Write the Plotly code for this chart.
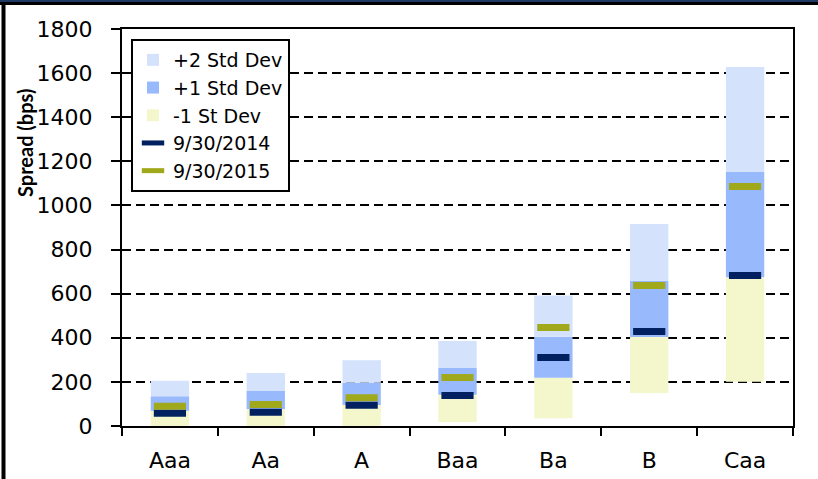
import plotly.graph_objects as go

# Ratings and spread statistics (bps)
ratings = ["Aaa", "Aa", "A", "Baa", "Ba", "B", "Caa"]
minus1_sd = [0, 0, 0, 18, 35, 150, 201]
mean_spread = [69, 77, 95, 142, 219, 403, 675]
plus1_sd = [135, 159, 196, 263, 405, 657, 1152]
plus2_sd = [205, 240, 298, 385, 592, 916, 1628]
spread_2014 = [58, 62, 94, 138, 311, 428, 682]
spread_2015 = [89, 97, 128, 220, 447, 637, 1086]
y_ticks = [0, 200, 400, 600, 800, 1000, 1200, 1400, 1600, 1800]

W, H = 818, 479
L, R, T, B = 122, 25, 29, 53
PW, PH = W - L - R, H - T - B

def px_x(x):
    return (x - L) / PW

def px_y(y):
    return (H - B - y) / PH

FONT = "DejaVu Sans"
C_P2 = "#D5E2FC"
C_P1 = "#98B9FB"
C_M1 = "#F4F7CC"
C_14 = "#002060"
C_15 = "#A0A91C"

fig = go.Figure()

fig.add_trace(go.Bar(
    x=ratings, base=minus1_sd,
    y=[m - lo for m, lo in zip(mean_spread, minus1_sd)],
    marker=dict(color=C_M1, line=dict(width=0)),
    width=0.4, name="-1 St Dev", legendrank=3,
))
fig.add_trace(go.Bar(
    x=ratings, base=mean_spread,
    y=[p - m for p, m in zip(plus1_sd, mean_spread)],
    marker=dict(color=C_P1, line=dict(width=0)),
    width=0.4, name="+1 Std Dev", legendrank=2,
))
fig.add_trace(go.Bar(
    x=ratings, base=plus1_sd,
    y=[p2 - p1 for p2, p1 in zip(plus2_sd, plus1_sd)],
    marker=dict(color=C_P2, line=dict(width=0)),
    width=0.4, name="+2 Std Dev", legendrank=1,
))
# Dash markers for the two observation dates
fig.add_trace(go.Scatter(
    x=ratings, y=spread_2014, mode="markers",
    marker=dict(symbol="line-ew", size=23, line=dict(width=7, color=C_14), color=C_14),
    name="9/30/2014", legendrank=4,
))
fig.add_trace(go.Scatter(
    x=ratings, y=spread_2015, mode="markers",
    marker=dict(symbol="line-ew", size=23, line=dict(width=7, color=C_15), color=C_15),
    name="9/30/2015", legendrank=5,
))

# Invisible trace on the overlay axis so that its inside ticks are drawn
fig.add_trace(go.Scatter(x=ratings, y=[None] * len(ratings), yaxis="y2",
                         showlegend=False, hoverinfo="skip"))

fig.update_layout(
    width=W, height=H,
    margin=dict(l=L, r=R, t=T, b=B, pad=0, autoexpand=False),
    paper_bgcolor="white", plot_bgcolor="white",
    barmode="overlay",
    font=dict(family=FONT, color="black"),
    showlegend=True,
    legend=dict(
        x=px_x(131), y=px_y(39), xanchor="left", yanchor="top",
        bgcolor="white", bordercolor="black", borderwidth=2,
        font=dict(family=FONT, size=19, color="black"),
        itemsizing="trace", traceorder="normal",
    ),
    xaxis=dict(
        type="category", tickson="boundaries", automargin=False,
        range=[-0.5, len(ratings) - 0.5],
        showline=True, linecolor="black", linewidth=2, mirror=True,
        ticks="outside", ticklen=8, tickwidth=2, tickcolor="black",
        tickfont=dict(family=FONT, size=22, color="black"),
        ticklabelstandoff=14, showgrid=False,
    ),
    yaxis=dict(
        range=[0, 1800], tickvals=y_ticks, automargin=False,
        showline=True, linecolor="black", linewidth=2, mirror=True,
        ticks="outside", ticklen=9, tickwidth=2, tickcolor="black",
        tickfont=dict(family=FONT, size=22, color="black"),
        ticklabelstandoff=14,
        showgrid=True, gridcolor="black", gridwidth=1.5, griddash="9px,5px",
        zeroline=False,
    ),
    yaxis2=dict(
        overlaying="y", side="left", anchor="x", range=[0, 1800], tickvals=y_ticks,
        automargin=False,
        ticks="inside", ticklen=8, tickwidth=2, tickcolor="black",
        showticklabels=False, showgrid=False, zeroline=False, showline=False,
    ),
    annotations=[dict(
        text="<b>Spread (bps)</b>", textangle=-90,
        x=px_x(25), y=px_y(143), xref="paper", yref="paper",
        xanchor="center", yanchor="middle", showarrow=False,
        font=dict(family="Lato", size=20, color="black"),
    )],
    shapes=[
        dict(type="rect", xref="paper", yref="paper", layer="above",
             x0=px_x(-2), x1=px_x(W + 2), y0=px_y(0 - 2), y1=px_y(2),
             fillcolor="#1F3864", line=dict(width=0)),
        dict(type="rect", xref="paper", yref="paper", layer="above",
             x0=px_x(-2), x1=px_x(W + 2), y0=px_y(2), y1=px_y(5),
             fillcolor="black", line=dict(width=0)),
        dict(type="rect", xref="paper", yref="paper", layer="above",
             x0=px_x(1.5), x1=px_x(5.5), y0=px_y(2), y1=px_y(H + 2),
             fillcolor="black", line=dict(width=0)),
    ],
)

fig.write_html("out.html")
